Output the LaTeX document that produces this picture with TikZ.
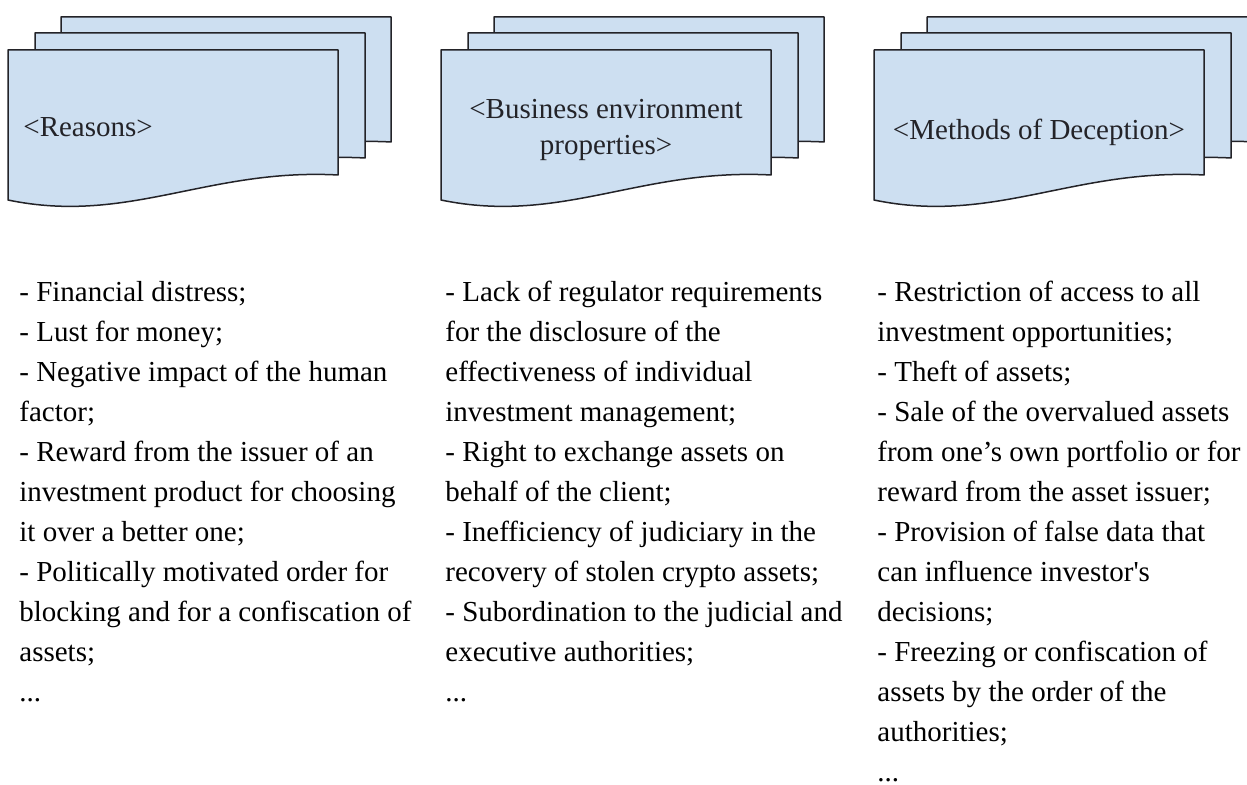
\documentclass[tikz,border=0pt]{standalone}
\usepackage{fontspec}
\setmainfont{Liberation Serif}[Ligatures=TeXOff]
\definecolor{sheetblue}{RGB}{205,223,241}
\definecolor{sheetline}{RGB}{35,35,40}

\begin{document}
\begin{tikzpicture}[x=0.5pt, y=-0.5pt,
  sheet/.style={draw=sheetline, fill=sheetblue, line width=0.75pt, line join=round},
  sheetlabel/.style={font={\fontsize{14.5}{18}\selectfont}, text=sheetline, inner sep=0pt, align=center},
  itemlist/.style={font={\fontsize{14.5}{20}\selectfont}, inner sep=0pt, align=left, anchor=north west}]

  \clip (0,0) rectangle (1247,785);

  \coordinate (reasons) at (8,50);
  \coordinate (business) at (441,50);
  \coordinate (methods) at (874,50);

  % stacked sheets, back ones first
  \draw[sheet, shift={(reasons)}, shift={(53,-33)}] (0,0) -- (330,0) -- (330,125) .. controls (200,118) and (120,175) .. (0,150) -- cycle;
  \draw[sheet, shift={(reasons)}, shift={(27,-17)}] (0,0) -- (330,0) -- (330,125) .. controls (200,118) and (120,175) .. (0,150) -- cycle;
  \draw[sheet, shift={(reasons)}] (0,0) -- (330,0) -- (330,125) .. controls (200,118) and (120,175) .. (0,150) -- cycle;

  \draw[sheet, shift={(business)}, shift={(53,-33)}] (0,0) -- (330,0) -- (330,125) .. controls (200,118) and (120,175) .. (0,150) -- cycle;
  \draw[sheet, shift={(business)}, shift={(27,-17)}] (0,0) -- (330,0) -- (330,125) .. controls (200,118) and (120,175) .. (0,150) -- cycle;
  \draw[sheet, shift={(business)}] (0,0) -- (330,0) -- (330,125) .. controls (200,118) and (120,175) .. (0,150) -- cycle;

  \draw[sheet, shift={(methods)}, shift={(53,-33)}] (0,0) -- (330,0) -- (330,125) .. controls (200,118) and (120,175) .. (0,150) -- cycle;
  \draw[sheet, shift={(methods)}, shift={(27,-17)}] (0,0) -- (330,0) -- (330,125) .. controls (200,118) and (120,175) .. (0,150) -- cycle;
  \draw[sheet, shift={(methods)}] (0,0) -- (330,0) -- (330,125) .. controls (200,118) and (120,175) .. (0,150) -- cycle;

  \node[sheetlabel, anchor=base west] (reasonsLabel) at (23,137) {<Reasons>};
  \node[sheetlabel] (businessLabel) at (606,130) {<Business environment\\properties>};
  \node[sheetlabel, anchor=base] (methodsLabel) at (1039,140) {<Methods of Deception>};

  \node[itemlist] (reasonsList) at (19,281) {- Financial distress;\\
- Lust for money;\\
- Negative impact of the human\\
factor;\\
- Reward from the issuer of an\\
investment product for choosing\\
it over a better one;\\
- Politically motivated order for\\
blocking and for a confiscation of\\
assets;\\
...};

  \node[itemlist] (businessList) at (445,281) {- Lack of regulator requirements\\
for the disclosure of the\\
effectiveness of individual\\
investment management;\\
- Right to exchange assets on\\
behalf of the client;\\
- Inefficiency of judiciary in the\\
recovery of stolen crypto assets;\\
- Subordination to the judicial and\\
executive authorities;\\
...};

  \node[itemlist] (methodsList) at (877,281) {- Restriction of access to all\\
investment opportunities;\\
- Theft of assets;\\
- Sale of the overvalued assets\\
from one’s own portfolio or for\\
reward from the asset issuer;\\
- Provision of false data that\\
can influence investor's\\
decisions;\\
- Freezing or confiscation of\\
assets by the order of the\\
authorities;\\
...};

\end{tikzpicture}
\end{document}
